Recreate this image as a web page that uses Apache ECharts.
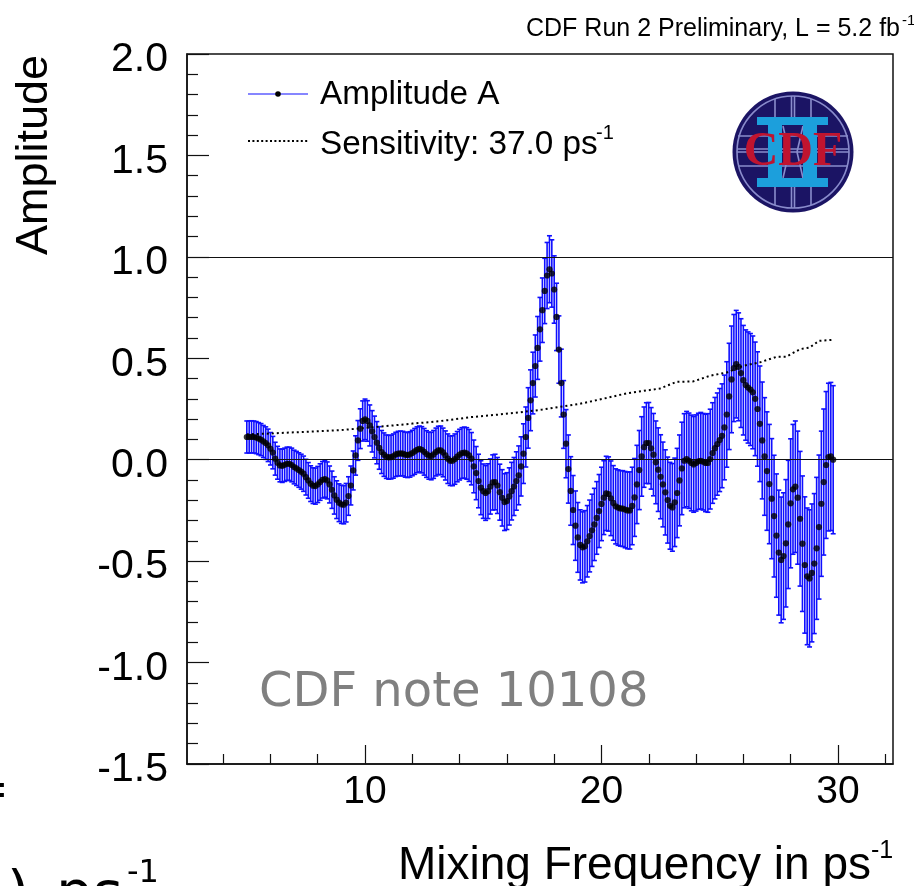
<!DOCTYPE html>
<html>
<head>
<meta charset="utf-8">
<title>Amplitude scan</title>
<script src="https://cdn.jsdelivr.net/npm/echarts@6/dist/echarts.min.js"></script>
<style>
  html, body { margin: 0; padding: 0; background: #fff; overflow: hidden; }
  #chart { width: 914px; height: 886px; }
</style>
</head>
<body>
<div id="chart"></div>
<script>
var frequency = [
  5.0,5.1,5.2,5.3,5.4,5.5,5.6,5.7,5.8,5.9,
  6.0,6.1,6.2,6.3,6.4,6.5,6.6,6.7,6.8,6.9,
  7.0,7.1,7.2,7.3,7.4,7.5,7.6,7.7,7.8,7.9,
  8.0,8.1,8.2,8.3,8.4,8.5,8.6,8.7,8.8,8.9,
  9.0,9.1,9.2,9.3,9.4,9.5,9.6,9.7,9.8,9.9,
  10.0,10.1,10.2,10.3,10.4,10.5,10.6,10.7,10.8,10.9,
  11.0,11.1,11.2,11.3,11.4,11.5,11.6,11.7,11.8,11.9,
  12.0,12.1,12.2,12.3,12.4,12.5,12.6,12.7,12.8,12.9,
  13.0,13.1,13.2,13.3,13.4,13.5,13.6,13.7,13.8,13.9,
  14.0,14.1,14.2,14.3,14.4,14.5,14.6,14.7,14.8,14.9,
  15.0,15.1,15.2,15.3,15.4,15.5,15.6,15.7,15.8,15.9,
  16.0,16.1,16.2,16.3,16.4,16.5,16.6,16.7,16.8,16.9,
  17.0,17.1,17.2,17.3,17.4,17.5,17.6,17.7,17.8,17.9,
  18.0,18.1,18.2,18.3,18.4,18.5,18.6,18.7,18.8,18.9,
  19.0,19.1,19.2,19.3,19.4,19.5,19.6,19.7,19.8,19.9,
  20.0,20.1,20.2,20.3,20.4,20.5,20.6,20.7,20.8,20.9,
  21.0,21.1,21.2,21.3,21.4,21.5,21.6,21.7,21.8,21.9,
  22.0,22.1,22.2,22.3,22.4,22.5,22.6,22.7,22.8,22.9,
  23.0,23.1,23.2,23.3,23.4,23.5,23.6,23.7,23.8,23.9,
  24.0,24.1,24.2,24.3,24.4,24.5,24.6,24.7,24.8,24.9,
  25.0,25.1,25.2,25.3,25.4,25.5,25.6,25.7,25.8,25.9,
  26.0,26.1,26.2,26.3,26.4,26.5,26.6,26.7,26.8,26.9,
  27.0,27.1,27.2,27.3,27.4,27.5,27.6,27.7,27.8,27.9,
  28.0,28.1,28.2,28.3,28.4,28.5,28.6,28.7,28.8,28.9,
  29.0,29.1,29.2,29.3,29.4,29.5,29.6,29.7,29.8
];
var amplitude = [
  .112,.112,.113,.112,.109,.104,.099,.09,.082,.071,
  .054,.035,.005,-.015,-.028,-.03,-.025,-.02,-.02,-.026,
  -.036,-.043,-.051,-.059,-.069,-.086,-.102,-.118,-.128,-.13,
  -.122,-.11,-.099,-.095,-.102,-.122,-.148,-.176,-.197,-.212,
  -.22,-.222,-.212,-.179,-.127,-.053,.021,.095,.153,.191,
  .199,.191,.169,.14,.112,.084,.058,.038,.025,.015,
  .012,.013,.018,.026,.03,.031,.03,.025,.023,.026,
  .033,.041,.049,.053,.049,.039,.028,.02,.018,.026,
  .038,.046,.046,.036,.021,.005,-.005,-.005,.003,.015,
  .025,.033,.035,.031,.021,.005,-.033,-.066,-.105,-.138,
  -.155,-.164,-.155,-.132,-.112,-.11,-.127,-.16,-.188,-.209,
  -.204,-.181,-.155,-.132,-.105,-.077,-.033,.03,.112,.206,
  .293,.378,.462,.551,.643,.737,.832,.908,.939,.918,
  .839,.704,.543,.378,.223,.079,-.046,-.154,-.248,-.325,
  -.383,-.42,-.432,-.427,-.402,-.376,-.348,-.319,-.287,-.253,
  -.218,-.187,-.166,-.169,-.19,-.213,-.23,-.236,-.24,-.241,
  -.246,-.25,-.25,-.228,-.186,-.122,-.051,.016,.062,.082,
  .082,.056,.025,-.013,-.049,-.084,-.122,-.161,-.199,-.227,
  -.235,-.21,-.164,-.102,-.043,-.005,.003,-.005,-.016,-.023,
  -.016,-.008,-.005,-.01,-.016,-.016,.003,.033,.057,.077,
  .097,.118,.159,.223,.312,.396,.452,.471,.458,.427,
  .392,.368,.356,.346,.332,.30,.25,.177,.095,.016,
  -.056,-.12,-.192,-.278,-.374,-.458,-.494,-.475,-.412,-.319,
  -.215,-.146,-.133,-.187,-.291,-.414,-.519,-.575,-.585,-.558,
  -.512,-.437,-.332,-.217,-.11,-.026,.013,.016,0
];
var amplitudeErr = [
  .079,.079,.079,.079,.079,.079,.079,.079,.08,.08,
  .08,.08,.081,.081,.081,.082,.082,.082,.082,.083,
  .083,.084,.085,.086,.087,.088,.088,.088,.088,.089,
  .089,.09,.09,.09,.091,.091,.092,.092,.093,.093,
  .094,.094,.095,.095,.096,.096,.097,.098,.098,.099,
  .1,.1,.101,.102,.103,.104,.105,.106,.107,.107,
  .108,.108,.109,.109,.11,.11,.11,.111,.111,.112,
  .112,.113,.113,.113,.114,.115,.115,.116,.117,.118,
  .118,.119,.12,.12,.121,.122,.122,.123,.124,.124,
  .125,.125,.126,.127,.128,.129,.13,.131,.132,.133,
  .134,.135,.135,.136,.136,.137,.138,.138,.139,.14,
  .14,.141,.142,.143,.144,.145,.146,.147,.148,.149,
  .15,.152,.153,.155,.157,.159,.161,.163,.165,.166,
  .166,.166,.166,.167,.167,.168,.168,.169,.17,.171,
  .172,.173,.175,.176,.176,.177,.178,.178,.179,.18,
  .181,.182,.183,.183,.184,.184,.185,.186,.186,.187,
  .188,.189,.19,.191,.192,.193,.195,.196,.198,.199,
  .2,.201,.203,.204,.206,.207,.209,.21,.212,.214,
  .216,.218,.22,.224,.228,.232,.235,.235,.236,.236,
  .237,.237,.238,.238,.24,.243,.246,.248,.25,.252,
  .254,.256,.258,.26,.262,.263,.264,.265,.266,.268,
  .27,.272,.274,.276,.278,.28,.282,.285,.288,.29,
  .292,.294,.296,.3,.304,.308,.31,.312,.314,.316,
  .318,.32,.324,.328,.332,.334,.336,.337,.338,.34,
  .345,.35,.355,.358,.36,.362,.364,.365,.365
];
var sensFreq = [5,6,7,8,9,10,11,12,12.8,13.5,14.5,15.6,16.5,17.5,18.26,19.1,19.66,21.07,22.47,23.18,23.88,24.6,25.3,26,26.7,27.4,27.8,28.4,28.8,29.2,29.8];
var sensitivity = [.125,.129,.135,.14,.146,.157,.167,.178,.186,.195,.21,.222,.233,.247,.261,.276,.29,.327,.351,.384,.386,.414,.43,.463,.48,.507,.507,.545,.553,.586,.591];
var xMajorTicks = [10,20,30];
var xMinorTicks = [4,6,8,12,14,16,18,22,24,26,28,32];
var refLevels = [0,1];

var chart = echarts.init(document.getElementById('chart'));

var sansFont = '"Liberation Sans", Arial, sans-serif';
var dejaFont = '"DejaVu Sans", sans-serif';
var axisBlack = '#111';
var barBlue = '#0f0fff';

function pairs(xs, ys) {
  var out = [];
  for (var i = 0; i < xs.length; i++) out.push([xs[i], ys[i]]);
  return out;
}

function errorRows() {
  var out = [];
  for (var i = 0; i < frequency.length; i++) {
    out.push([frequency[i], amplitude[i] - amplitudeErr[i], amplitude[i] + amplitudeErr[i]]);
  }
  return out;
}

function renderError(params, api) {
  var x = api.value(0);
  var lo = api.coord([x, api.value(1)]);
  var hi = api.coord([x, api.value(2)]);
  var cap = 2.5;
  var style = { stroke: barBlue, lineWidth: 1.6, fill: null };
  return {
    type: 'group',
    children: [
      { type: 'line', shape: { x1: lo[0], y1: lo[1], x2: hi[0], y2: hi[1] }, style: style },
      { type: 'line', shape: { x1: lo[0] - cap, y1: lo[1], x2: lo[0] + cap, y2: lo[1] }, style: style },
      { type: 'line', shape: { x1: hi[0] - cap, y1: hi[1], x2: hi[0] + cap, y2: hi[1] }, style: style }
    ]
  };
}

function label(x, y, str, size, extra) {
  var style = { x: x, y: y, text: str, fill: '#000', font: size + 'px ' + sansFont, textAlign: 'left', textVerticalAlign: 'middle' };
  for (var k in extra) style[k] = extra[k];
  return { type: 'text', style: style, z: 20, silent: true };
}

// logo, drawn from plain shapes
var logoX = 793, logoY = 152;
var ringColor = '#8a8ccc';
function logoLine(x1, y1, x2, y2) {
  return { type: 'line', shape: { x1: logoX + x1, y1: logoY + y1, x2: logoX + x2, y2: logoY + y2 }, style: { stroke: ringColor, lineWidth: 1.6 }, z: 11, silent: true };
}
function logoRect(x, y, w, h) {
  return { type: 'rect', shape: { x: logoX + x, y: logoY + y, width: w, height: h }, style: { fill: '#1c9fdc' }, z: 12, silent: true };
}
var logo = [
  { type: 'circle', shape: { cx: logoX, cy: logoY, r: 60.5 }, style: { fill: '#1b1464' }, z: 10, silent: true },
  { type: 'circle', shape: { cx: logoX, cy: logoY, r: 56 }, style: { fill: 'none', stroke: ringColor, lineWidth: 1.6 }, z: 11, silent: true },
  logoLine(-18, -53, -18, 53), logoLine(-1.5, -56, -1.5, -33), logoLine(1.5, -56, 1.5, -33),
  logoLine(-1.5, 33, -1.5, 56), logoLine(1.5, 33, 1.5, 56), logoLine(18, -53, 18, 53),
  logoLine(-55, -16, 55, -16), logoLine(-56, -3, 56, -3), logoLine(-56, 0, 56, 0), logoLine(-55, 14, 55, 14),
  logoLine(-10, -26, -4, 0), logoLine(-4, 0, -10, 26), logoLine(10, -26, 4, 0), logoLine(4, 0, 10, 26),
  logoRect(-36, -35, 71, 8), logoRect(-36, 26, 71, 9), logoRect(-25, -35, 14, 70), logoRect(10, -35, 14, 70),
  { type: 'text', style: { x: logoX, y: logoY + 1, text: 'CDF', fill: '#c0142f', font: 'bold 48px "Liberation Serif", serif', textAlign: 'center', textVerticalAlign: 'middle' }, z: 13, silent: true }
];

var texts = [
  label(526, 29, 'CDF Run 2 Preliminary, L = 5.2 fb', 25),
  label(902, 21, '-1', 15),
  { type: 'text', rotation: Math.PI / 2, x: 35, y: 55, style: { x: 0, y: 0, text: 'Amplitude', fill: '#000', font: '45px ' + sansFont, textAlign: 'right', textVerticalAlign: 'middle' }, z: 20, silent: true },
  label(398, 866, 'Mixing Frequency in ps', 46),
  label(871, 851, '-1', 25),
  label(320, 95, 'Amplitude A', 33.3),
  label(320, 145, 'Sensitivity: 37.0 ps', 33.3),
  label(596, 133, '-1', 20),
  label(259, 694, 'CDF note 10108', 48, { fill: '#808080', font: '48px ' + dejaFont }),
  label(9, 793, '=', 48, { font: '48px ' + dejaFont, textAlign: 'right' }),
  label(7, 898, ')', 58, { font: '58px ' + dejaFont }),
  label(56, 898, 'ps', 58, { font: '58px ' + dejaFont }),
  label(127, 874, '-1', 32, { font: '32px ' + dejaFont }),
  { type: 'line', shape: { x1: 248, y1: 94, x2: 308, y2: 94 }, style: { stroke: barBlue, lineWidth: 1.2 }, z: 20, silent: true },
  { type: 'circle', shape: { cx: 278, cy: 94, r: 2.8 }, style: { fill: '#000' }, z: 21, silent: true },
  { type: 'line', shape: { x1: 248, y1: 141, x2: 308, y2: 141 }, style: { stroke: '#000', lineWidth: 2, lineDash: [2, 2.4] }, z: 20, silent: true }
];

chart.setOption({
  animation: false,
  backgroundColor: '#fff',
  grid: {
    left: 187,
    right: 21,
    top: 54,
    bottom: 122,
    show: true,
    borderColor: axisBlack,
    borderWidth: 1.5,
    backgroundColor: 'transparent'
  },
  xAxis: [
    {
      type: 'value',
      min: 2.47,
      max: 32.33,
      axisLine: { onZero: false, lineStyle: { color: axisBlack, width: 1.5 } },
      splitLine: { show: false },
      axisTick: { inside: true, length: 19, lineStyle: { color: axisBlack, width: 1.2 }, customValues: xMajorTicks },
      axisLabel: { color: '#000', fontFamily: sansFont, fontSize: 39, margin: 9, customValues: xMajorTicks }
    },
    {
      type: 'value',
      position: 'bottom',
      min: 2.47,
      max: 32.33,
      axisLine: { show: false, onZero: false },
      splitLine: { show: false },
      axisTick: { inside: true, length: 10, lineStyle: { color: axisBlack, width: 1.2 }, customValues: xMinorTicks },
      axisLabel: { show: false }
    }
  ],
  yAxis: {
    type: 'value',
    min: -1.5,
    max: 2,
    interval: 0.5,
    axisLine: { show: true, onZero: false, lineStyle: { color: axisBlack, width: 1.5 } },
    splitLine: { show: false },
    axisTick: { show: true, inside: true, length: 22, lineStyle: { color: axisBlack, width: 1.2 } },
    minorTick: { show: true, splitNumber: 5, length: 11, lineStyle: { color: axisBlack, width: 1.2 } },
    axisLabel: {
      color: '#000',
      fontFamily: sansFont,
      fontSize: 41,
      margin: 19,
      verticalAlign: 'top',
      lineHeight: 12,
      showMinLabel: true,
      showMaxLabel: true,
      formatter: function (v) { return v.toFixed(1); }
    }
  },
  series: [
    {
      name: 'Error',
      type: 'custom',
      renderItem: renderError,
      encode: { x: 0, y: [1, 2] },
      data: errorRows(),
      silent: true,
      clip: true,
      z: 3
    },
    {
      name: 'Sensitivity',
      type: 'line',
      data: pairs(sensFreq, sensitivity),
      showSymbol: false,
      silent: true,
      lineStyle: { color: '#000', width: 2, type: [2, 3] },
      markLine: {
        silent: true,
        symbol: 'none',
        label: { show: false },
        lineStyle: { color: axisBlack, width: 1.2, type: 'solid' },
        data: [{ yAxis: refLevels[0] }, { yAxis: refLevels[1] }]
      },
      z: 4
    },
    {
      name: 'Amplitude A',
      type: 'scatter',
      data: pairs(frequency, amplitude),
      symbol: 'circle',
      symbolSize: 6.2,
      itemStyle: { color: '#000' },
      silent: true,
      z: 5
    }
  ],
  graphic: logo.concat(texts)
});
</script>
</body>
</html>
